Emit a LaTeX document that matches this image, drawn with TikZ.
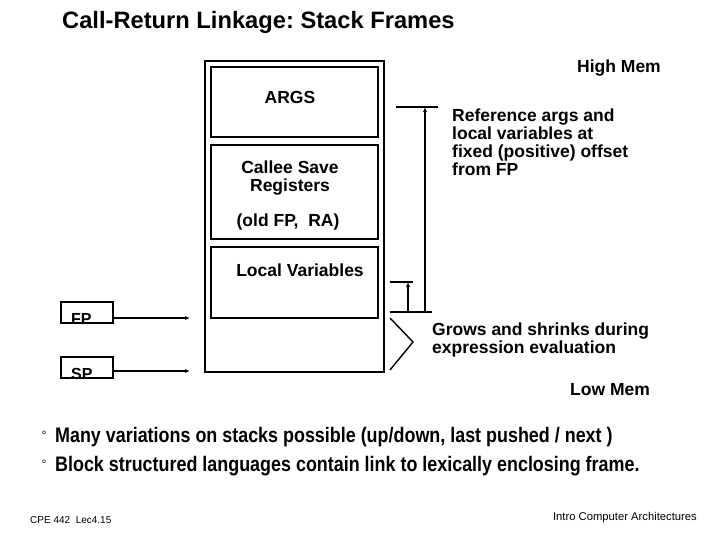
\documentclass[tikz,border=0pt]{standalone}
\usepackage{fontspec}
\setmainfont{Liberation Sans}
\usetikzlibrary{arrows.meta}
\frenchspacing
\begin{document}
\begin{tikzpicture}[x=1pt,y=-1pt,
  frame/.style={draw,line width=1.6pt},
  lbl/.style={font=\fontsize{17.5}{18}\selectfont\bfseries,inner sep=0pt},
  side/.style={font=\fontsize{17.5}{18}\selectfont\bfseries,inner sep=0pt,align=left},
  ptrbox/.style={draw,line width=1.4pt,minimum width=52pt,minimum height=21pt,inner sep=0pt},
  ptr/.style={line width=1.2pt,-{Latex[length=5pt,width=4pt]}},
  brk/.style={line width=1.4pt},
  brkarrow/.style={line width=1.4pt,-{Latex[length=5pt,width=4pt]}},
  bullet/.style={font=\fontsize{21}{24}\selectfont\bfseries,inner sep=0pt,xscale=0.853},
  foot/.style={font=\fontsize{10}{12}\selectfont,inner sep=0pt}]
\useasboundingbox (0,0) rectangle (720,540);
% title
\node[font=\fontsize{23.7}{26}\selectfont\bfseries,inner sep=0pt,anchor=west] (title) at (62,22) {Call-Return Linkage: Stack Frames};
\node[lbl,anchor=west] (high) at (577,68) {High Mem};
\node[lbl,anchor=west] (low) at (570,390) {Low Mem};
% stack frame
\draw[frame] (205,61) rectangle (384,372);
\draw[frame] (211,67) rectangle (378,137);
\draw[frame] (211,145) rectangle (378,239);
\draw[frame] (211,247) rectangle (378,318);
\node[lbl] (args) at (290,97) {ARGS};
\node[lbl,align=center] (callee) at (290,178) {Callee Save\\Registers};
\node[lbl] (oldfp) at (288,222) {(old FP,~ RA)};
\node[lbl] (locals) at (300,270) {Local Variables};
% FP / SP
\node[ptrbox] (fp) at (87,312.5) {};
\node[lbl,font=\fontsize{16}{18}\selectfont\bfseries,anchor=base west] (fptext) at (71,324) {FP};
\node[ptrbox] (sp) at (87,367.5) {};
\node[lbl,font=\fontsize{16}{18}\selectfont\bfseries,anchor=base west] (sptext) at (71,379) {SP};
\coordinate (fpend) at (190,318);
\coordinate (spend) at (190,371);
\draw[ptr] (fp.east |- fpend) -- (fpend);
\draw[ptr] (sp.east |- spend) -- (spend);
% brackets
\coordinate (lt) at (425,107);
\coordinate (lb) at (425,312);
\coordinate (st) at (408,282);
\coordinate (sb) at (408,312);
\draw[brk] (396,107) -- (438,107);
\draw[brk] (390,312) -- (432,312);
\draw[brk] (390,282) -- (413,282);
\draw[brkarrow] (lb) -- (lt);
\draw[brkarrow] (sb) -- (st);
\draw[brk] (390,318) -- (413,342) -- (390,370);
% side notes
\node[side,anchor=north west] (ref) at (452,108.5) {Reference args and\\local variables at\\fixed (positive) offset\\from FP};
\node[side,anchor=north west] (grow) at (432,323) {Grows and shrinks during\\expression evaluation};
% bullets
\node[font=\fontsize{12}{14}\selectfont,inner sep=0pt] (b1) at (44,435) {°};
\node[bullet,anchor=west] (t1) at (55,437) {Many variations on stacks possible (up/down, last pushed / next )};
\node[font=\fontsize{12}{14}\selectfont,inner sep=0pt] (b2) at (44,464) {°};
\node[bullet,anchor=west] (t2) at (55,466) {Block structured languages contain link to lexically enclosing frame.};
% footer
\node[foot,anchor=west] (f1) at (30,520) {CPE 442~ Lec4.15};
\node[foot,font=\fontsize{11.25}{13}\selectfont,anchor=east] (f2) at (697,518) {Intro Computer Architectures};
\end{tikzpicture}
\end{document}
